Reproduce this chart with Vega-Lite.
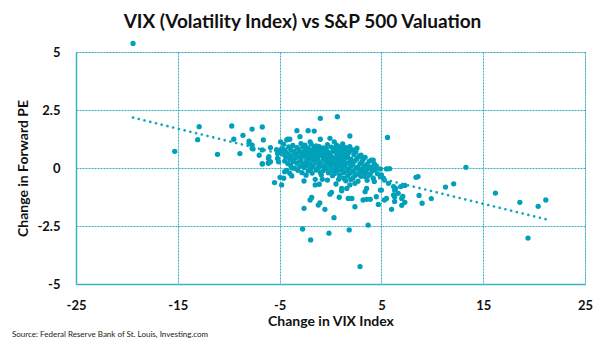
{
"$schema": "https://vega.github.io/schema/vega-lite/v6.json",
"width": 509, "height": 232,
"autosize": {"type": "none"},
"padding": {"left": 76, "top": 52, "right": 20, "bottom": 57},
"background": "white",
"title": {"text": "Source: Federal Reserve Bank of St. Louis, Investing.com", "orient": "bottom", "anchor": "start", "frame": "bounds", "font": "Lato", "fontSize": 8, "fontWeight": "normal", "color": "#222222", "offset": 3, "dx": -5},
"data": {"values": [
{"vix":-19.4,"pe":5.37},{"vix":-15.3,"pe":0.72},{"vix":-12.9,"pe":1.78},{"vix":-13.05,"pe":1.22},{"vix":-9.7,"pe":1.81},{"vix":-11.1,"pe":0.59},{"vix":-9.5,"pe":1.24},{"vix":-8.6,"pe":1.41},{"vix":-7.7,"pe":1.68},{"vix":-6.7,"pe":1.77},{"vix":-8.9,"pe":0.62},{"vix":-8.0,"pe":1.16},{"vix":-7.7,"pe":0.99},{"vix":-6.6,"pe":1.21},{"vix":-7.6,"pe":0.82},{"vix":-7.0,"pe":0.55},{"vix":-6.7,"pe":0.19},{"vix":-6.05,"pe":0.49},{"vix":-5.9,"pe":0.88},{"vix":-6.1,"pe":0.2},{"vix":-5.2,"pe":0.63},{"vix":-4.3,"pe":1.21},{"vix":-3.3,"pe":1.61},{"vix":-2.2,"pe":1.61},{"vix":-1.0,"pe":2.14},{"vix":0.67,"pe":2.21},{"vix":-5.1,"pe":0.27},
{"vix":13.3,"pe":0.03},{"vix":8.6,"pe":-0.37},{"vix":11.3,"pe":-0.82},{"vix":12.1,"pe":-0.68},{"vix":9.9,"pe":-1.32},{"vix":9.0,"pe":-1.52},{"vix":8.7,"pe":-1.18},{"vix":16.2,"pe":-1.08},{"vix":18.6,"pe":-1.48},{"vix":20.4,"pe":-1.65},{"vix":21.15,"pe":-1.38},{"vix":19.4,"pe":-3.02},
{"vix":6.0,"pe":-1.78},{"vix":7.0,"pe":-1.61},{"vix":7.3,"pe":-1.48},{"vix":6.3,"pe":-1.44},{"vix":7.3,"pe":-0.75},{"vix":6.9,"pe":-0.8},{"vix":6.4,"pe":-0.88},{"vix":5.5,"pe":-0.04},{"vix":5.8,"pe":-0.03},{"vix":5.0,"pe":-0.3},{"vix":5.3,"pe":-0.52},{"vix":5.7,"pe":-0.66},{"vix":5.0,"pe":-0.95},{"vix":5.3,"pe":-1.38},{"vix":6.2,"pe":-1.16},{"vix":6.65,"pe":-1.09},{"vix":7.0,"pe":-1.31},{"vix":5.6,"pe":1.32},{"vix":4.2,"pe":0.34},{"vix":4.5,"pe":0.09},{"vix":4.5,"pe":-1.24},{"vix":6.3,"pe":-0.95},{"vix":4.9,"pe":-0.95},{"vix":4.7,"pe":-1.57},{"vix":2.4,"pe":-1.67},{"vix":3.7,"pe":-2.46},{"vix":1.84,"pe":-2.67},{"vix":1.75,"pe":-1.31},{"vix":2.1,"pe":-1.31},{"vix":3.2,"pe":-1.38},{"vix":3.55,"pe":-1.35},{"vix":5.5,"pe":-1.31},{"vix":6.3,"pe":-1.24},{"vix":7.1,"pe":-1.22},{"vix":6.2,"pe":-0.8},{"vix":1.6,"pe":-0.88},{"vix":1.9,"pe":-0.73},{"vix":2.4,"pe":-0.66},{"vix":3.4,"pe":-1.02},{"vix":3.55,"pe":-0.88},{"vix":4.2,"pe":-0.44},{"vix":4.9,"pe":-0.37},{"vix":5.2,"pe":-0.44},{"vix":3.4,"pe":-0.37},{"vix":2.9,"pe":-0.3},{"vix":2.2,"pe":-0.44},{"vix":1.3,"pe":-0.44},{"vix":1.1,"pe":-0.88},{"vix":4.9,"pe":-0.04},
{"vix":-5.5,"pe":-0.63},{"vix":-4.8,"pe":-0.73},{"vix":-4.6,"pe":-0.44},{"vix":-6.7,"pe":0.17},{"vix":-6.1,"pe":0.23},{"vix":-4.0,"pe":-0.23},{"vix":-3.8,"pe":-0.34},{"vix":-4.3,"pe":-0.1},{"vix":-3.8,"pe":0.0},{"vix":-2.6,"pe":-0.56},{"vix":-1.5,"pe":-0.49},{"vix":-1.5,"pe":-0.73},{"vix":-1.1,"pe":-0.7},{"vix":-0.8,"pe":-0.49},{"vix":-0.05,"pe":-1.13},{"vix":0.1,"pe":-1.05},{"vix":-2.0,"pe":-1.38},{"vix":-1.85,"pe":-1.27},{"vix":-1.2,"pe":-1.6},{"vix":-1.05,"pe":-1.5},{"vix":-0.55,"pe":-1.78},{"vix":-2.6,"pe":-1.74},{"vix":0.34,"pe":-2.14},{"vix":-2.74,"pe":-2.63},{"vix":-1.95,"pe":-3.1},{"vix":-0.15,"pe":-2.81},{"vix":2.9,"pe":-4.25},{"vix":0.86,"pe":-1.26},{"vix":1.1,"pe":-0.98},{"vix":0.54,"pe":-0.69},{"vix":3.9,"pe":-1.35},
{"vix":-3.0,"pe":1.35},{"vix":-4.0,"pe":1.24},{"vix":-1.6,"pe":1.59},{"vix":-1.0,"pe":1.24},{"vix":-0.05,"pe":1.28},{"vix":0.37,"pe":1.13},{"vix":-2.0,"pe":1.13},{"vix":1.9,"pe":1.38},{"vix":1.9,"pe":0.92},{"vix":2.2,"pe":0.78},{"vix":1.6,"pe":0.7},{"vix":2.9,"pe":0.52},{"vix":4.0,"pe":0.34},{"vix":-8.0,"pe":1.06},{"vix":-7.7,"pe":0.85},{"vix":-4.9,"pe":1.13},{"vix":-4.2,"pe":1.24},{"vix":-4.5,"pe":0.78},{"vix":-4.96,"pe":-0.4},{"vix":-4.5,"pe":-0.16},{"vix":-6.7,"pe":0.78},{"vix":-6.1,"pe":0.42},{"vix":-5.9,"pe":0.27},{"vix":8.4,"pe":-0.4},
{"vix":-4.6,"pe":1.02},{"vix":-3.7,"pe":0.97},{"vix":-2.9,"pe":1.05},{"vix":-2.5,"pe":0.98},{"vix":-1.9,"pe":1.03},{"vix":-1.4,"pe":0.95},{"vix":-0.3,"pe":1.01},{"vix":0.6,"pe":0.99},{"vix":1.2,"pe":1.04},
{"vix":-4.1,"pe":0.91},{"vix":-3.3,"pe":0.88},{"vix":-2.7,"pe":0.93},{"vix":-2.2,"pe":0.86},{"vix":-1.6,"pe":0.9},{"vix":-1.1,"pe":0.92},{"vix":-0.7,"pe":0.87},{"vix":0.1,"pe":0.9},{"vix":0.5,"pe":0.85},{"vix":1.0,"pe":0.92},{"vix":1.5,"pe":0.88},{"vix":2.6,"pe":0.86},
{"vix":-5.3,"pe":0.79},{"vix":-4.8,"pe":0.82},{"vix":-3.9,"pe":0.77},{"vix":-3.1,"pe":0.8},{"vix":-2.5,"pe":0.83},{"vix":-2.0,"pe":0.78},{"vix":-1.5,"pe":0.81},{"vix":-1.2,"pe":0.76},{"vix":-0.8,"pe":0.8},{"vix":-0.4,"pe":0.82},{"vix":0.3,"pe":0.77},{"vix":0.8,"pe":0.79},{"vix":1.3,"pe":0.81},{"vix":2.0,"pe":0.76},
{"vix":-5.0,"pe":0.7},{"vix":-4.4,"pe":0.68},{"vix":-3.6,"pe":0.72},{"vix":-3.0,"pe":0.69},{"vix":-2.6,"pe":0.71},{"vix":-2.3,"pe":0.67},{"vix":-1.8,"pe":0.7},{"vix":-1.4,"pe":0.73},{"vix":-0.9,"pe":0.68},{"vix":-0.5,"pe":0.7},{"vix":-0.1,"pe":0.66},{"vix":0.4,"pe":0.71},{"vix":1.1,"pe":0.69},{"vix":1.8,"pe":0.67},{"vix":2.5,"pe":0.7},
{"vix":-4.7,"pe":0.6},{"vix":-4.1,"pe":0.58},{"vix":-3.4,"pe":0.62},{"vix":-2.8,"pe":0.57},{"vix":-2.1,"pe":0.61},{"vix":-1.7,"pe":0.59},{"vix":-1.2,"pe":0.63},{"vix":-0.8,"pe":0.58},{"vix":-0.3,"pe":0.6},{"vix":0.0,"pe":0.56},{"vix":0.6,"pe":0.61},{"vix":1.0,"pe":0.57},{"vix":1.5,"pe":0.6},{"vix":2.3,"pe":0.58},{"vix":3.0,"pe":0.55},
{"vix":-4.4,"pe":0.49},{"vix":-3.8,"pe":0.52},{"vix":-3.2,"pe":0.48},{"vix":-2.5,"pe":0.51},{"vix":-1.9,"pe":0.47},{"vix":-1.5,"pe":0.5},{"vix":-1.0,"pe":0.53},{"vix":-0.6,"pe":0.48},{"vix":-0.2,"pe":0.5},{"vix":0.2,"pe":0.46},{"vix":0.7,"pe":0.51},{"vix":1.2,"pe":0.49},{"vix":1.7,"pe":0.47},{"vix":2.8,"pe":0.5},{"vix":3.4,"pe":0.46},
{"vix":-5.2,"pe":0.41},{"vix":-4.0,"pe":0.38},{"vix":-3.5,"pe":0.42},{"vix":-2.9,"pe":0.39},{"vix":-2.2,"pe":0.4},{"vix":-1.8,"pe":0.37},{"vix":-1.3,"pe":0.42},{"vix":-0.7,"pe":0.39},{"vix":-0.4,"pe":0.41},{"vix":0.1,"pe":0.38},{"vix":0.5,"pe":0.4},{"vix":0.9,"pe":0.36},{"vix":1.4,"pe":0.41},{"vix":2.0,"pe":0.38},{"vix":2.6,"pe":0.4},{"vix":3.2,"pe":0.37},
{"vix":-4.5,"pe":0.3},{"vix":-3.7,"pe":0.28},{"vix":-3.0,"pe":0.31},{"vix":-2.4,"pe":0.29},{"vix":-1.6,"pe":0.32},{"vix":-1.1,"pe":0.27},{"vix":-0.5,"pe":0.3},{"vix":0.0,"pe":0.28},{"vix":0.4,"pe":0.31},{"vix":0.8,"pe":0.26},{"vix":1.3,"pe":0.3},{"vix":1.9,"pe":0.28},{"vix":2.4,"pe":0.31},{"vix":3.1,"pe":0.27},{"vix":3.8,"pe":0.29},
{"vix":-4.2,"pe":0.19},{"vix":-3.3,"pe":0.21},{"vix":-2.7,"pe":0.18},{"vix":-2.0,"pe":0.2},{"vix":-1.4,"pe":0.22},{"vix":-0.9,"pe":0.17},{"vix":-0.3,"pe":0.2},{"vix":0.2,"pe":0.18},{"vix":0.6,"pe":0.21},{"vix":1.1,"pe":0.17},{"vix":1.6,"pe":0.2},{"vix":2.2,"pe":0.16},{"vix":2.9,"pe":0.19},{"vix":3.6,"pe":0.15},{"vix":4.3,"pe":0.18},
{"vix":-3.9,"pe":0.1},{"vix":-3.0,"pe":0.08},{"vix":-2.3,"pe":0.11},{"vix":-1.7,"pe":0.09},{"vix":-1.0,"pe":0.1},{"vix":-0.6,"pe":0.07},{"vix":0.0,"pe":0.1},{"vix":0.5,"pe":0.08},{"vix":0.9,"pe":0.11},{"vix":1.4,"pe":0.06},{"vix":2.0,"pe":0.09},{"vix":2.7,"pe":0.05},{"vix":3.3,"pe":0.08},{"vix":4.0,"pe":0.04},
{"vix":-3.5,"pe":-0.01},{"vix":-2.6,"pe":0.02},{"vix":-1.9,"pe":-0.02},{"vix":-1.2,"pe":0.01},{"vix":-0.4,"pe":-0.03},{"vix":0.3,"pe":0.0},{"vix":0.8,"pe":-0.02},{"vix":1.2,"pe":0.01},{"vix":1.8,"pe":-0.04},{"vix":2.5,"pe":-0.01},{"vix":3.1,"pe":-0.05},{"vix":3.7,"pe":-0.02},{"vix":4.4,"pe":-0.06},
{"vix":-3.2,"pe":-0.1},{"vix":-2.2,"pe":-0.12},{"vix":-1.4,"pe":-0.09},{"vix":-0.7,"pe":-0.11},{"vix":0.1,"pe":-0.1},{"vix":0.6,"pe":-0.13},{"vix":1.0,"pe":-0.09},{"vix":1.6,"pe":-0.12},{"vix":2.2,"pe":-0.14},{"vix":2.9,"pe":-0.11},{"vix":3.5,"pe":-0.15},{"vix":4.1,"pe":-0.13},
{"vix":-2.8,"pe":-0.2},{"vix":-1.8,"pe":-0.22},{"vix":-1.0,"pe":-0.19},{"vix":-0.2,"pe":-0.21},{"vix":0.4,"pe":-0.24},{"vix":1.3,"pe":-0.2},{"vix":1.9,"pe":-0.23},{"vix":2.6,"pe":-0.25},{"vix":3.2,"pe":-0.22},{"vix":3.9,"pe":-0.26},{"vix":4.6,"pe":-0.24},
{"vix":-2.4,"pe":-0.31},{"vix":-0.9,"pe":-0.3},{"vix":0.2,"pe":-0.33},{"vix":0.9,"pe":-0.31},{"vix":1.7,"pe":-0.34},{"vix":2.4,"pe":-0.32},{"vix":3.0,"pe":-0.36},{"vix":3.7,"pe":-0.33},
{"vix":-0.3,"pe":-0.52},{"vix":0.8,"pe":-0.49},{"vix":1.5,"pe":-0.55},{"vix":2.0,"pe":-0.5},{"vix":2.7,"pe":-0.57},{"vix":3.6,"pe":-0.53},{"vix":4.3,"pe":-0.58}
]},
"layer": [
{"mark": {"type": "circle", "size": 28, "opacity": 1, "color": "#00a0ba"},
 "encoding": {
  "x": {"field": "vix", "type": "quantitative", "scale": {"domain": [-25, 25], "nice": false},
   "axis": {"orient": "bottom", "values": [-25, -15, -5, 5, 15, 25], "labelExpr": "toString(datum.value)", "labelFlush": false, "labelOverlap": false, "labelBound": false, "ticks": false, "labelPadding": 15, "labelFont": "Lato", "labelFontSize": 13, "labelFontWeight": "bold", "labelColor": "#111111", "domainColor": "#3ab3c8", "domainWidth": 1.5, "grid": true, "gridColor": "#2fb0c6", "gridDash": [2, 1], "gridWidth": 1, "title": "Change in VIX Index", "titleFont": "Lato", "titleFontSize": 14, "titleFontWeight": "bold", "titleColor": "#111111", "titlePadding": 2}},
  "y": {"field": "pe", "type": "quantitative", "scale": {"domain": [-5, 5], "nice": false},
   "axis": {"values": [-5, -2.5, 0, 2.5, 5], "labelExpr": "toString(datum.value)", "labelFlush": false, "labelOverlap": false, "labelBound": false, "ticks": false, "labelPadding": 16, "labelFont": "Lato", "labelFontSize": 13, "labelFontWeight": "bold", "labelColor": "#111111", "domainColor": "#3ab3c8", "domainWidth": 1.5, "grid": true, "gridColor": "#2fb0c6", "gridDash": [2, 1], "gridWidth": 1, "title": "Change in Forward PE", "titleFont": "Lato", "titleFontSize": 14, "titleFontWeight": "bold", "titleColor": "#111111", "titlePadding": 6}}
 }},
{"transform": [{"regression": "pe", "on": "vix"}],
 "mark": {"type": "line", "color": "#10a5bd", "strokeWidth": 2.6, "strokeDash": [0.1, 5.8], "strokeCap": "round"},
 "encoding": {
  "x": {"field": "vix", "type": "quantitative", "axis": {"orient": "top", "labels": false, "ticks": false, "domain": false, "grid": false, "title": "VIX (Volatility Index) vs S&P 500 Valuation", "titleFont": "Lato", "titleFontSize": 19, "titleFontWeight": "bold", "titleColor": "#111111", "titlePadding": 21, "titleX": 226}},
  "y": {"field": "pe", "type": "quantitative"}
 }}
],
"resolve": {"axis": {"x": "independent"}}
}
